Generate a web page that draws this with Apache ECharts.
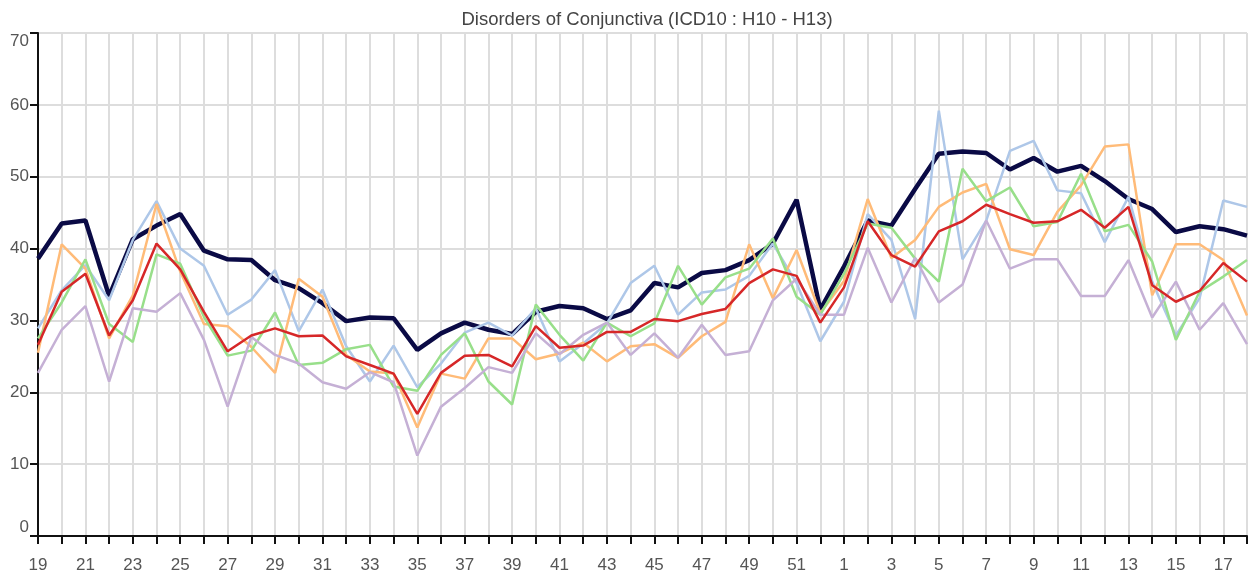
<!DOCTYPE html>
<html>
<head>
<meta charset="utf-8">
<title>Disorders of Conjunctiva</title>
<script src="https://cdn.jsdelivr.net/npm/echarts@6/dist/echarts.min.js"></script>
<style>
    html, body { margin: 0; padding: 0; background: #fff; }
    #chart { width: 1249px; height: 578px; }
</style>
</head>
<body>
<div id="chart"></div>
<script>
// 周次: 19..52 接 1..18
let weeks = ['19','20','21','22','23','24','25','26','27','28','29','30','31','32','33','34','35','36','37','38','39','40','41','42','43','44','45','46','47','48','49','50','51','52',
    '1','2','3','4','5','6','7','8','9','10','11','12','13','14','15','16','17','18'];

let yTicks = [0, 10, 20, 30, 40, 50, 60, 70];

// 当前季 (粗线)
let current = [38.6, 43.5, 43.9, 33.4, 41.3, 43.2, 44.8, 39.7, 38.5, 38.4, 35.6, 34.5, 32.4, 29.9, 30.4, 30.3, 25.9,
    28.2, 29.7, 28.7, 28.1, 31.2, 32.0, 31.7, 30.2, 31.4, 35.2, 34.6, 36.6, 37.0, 38.4, 40.7, 46.8, 31.5,
    37.5, 43.9, 43.2, 48.3, 53.2, 53.5, 53.3, 51.0, 52.6, 50.7, 51.5, 49.4, 46.9, 45.5, 42.3, 43.1, 42.7, 41.8];

let seasonBlue = [28.9, 34.2, 37.7, 32.8, 41.2, 46.6, 40.0, 37.6, 30.8, 32.9, 37.0, 28.5, 34.3, 26.4, 21.5, 26.5, 20.7,
    24.0, 28.3, 29.7, 27.9, 31.7, 24.3, 26.8, 29.6, 35.2, 37.6, 30.8, 33.9, 34.3, 36.2, 40.7, 35.2, 27.1,
    32.6, 44.8, 41.2, 30.2, 59.2, 38.5, 43.9, 53.6, 55.0, 48.1, 47.7, 40.9, 47.2, 35.4, 27.9, 33.1, 46.7, 45.8];

let seasonOrange = [25.5, 40.6, 37.2, 27.5, 33.5, 46.2, 36.8, 29.5, 29.2, 26.3, 22.7, 35.8, 33.3, 25.2, 22.9, 22.6, 15.1,
    22.6, 21.9, 27.5, 27.5, 24.6, 25.4, 26.9, 24.3, 26.4, 26.7, 24.8, 27.8, 29.8, 40.6, 33.1, 39.8, 31.0,
    35.5, 46.9, 38.7, 41.2, 45.8, 47.8, 49.0, 39.9, 39.1, 45.1, 48.8, 54.2, 54.5, 33.5, 40.6, 40.6, 38.4, 30.7];

let seasonGreen = [27.5, 32.5, 38.5, 29.5, 27.0, 39.2, 37.9, 30.5, 25.1, 25.8, 31.1, 23.8, 24.1, 26.0, 26.6, 20.8, 20.2,
    25.2, 28.2, 21.5, 18.3, 32.2, 28.0, 24.4, 29.7, 27.8, 29.6, 37.6, 32.2, 36.0, 37.2, 41.4, 33.3, 30.8,
    36.5, 43.5, 42.9, 38.6, 35.4, 51.1, 46.6, 48.5, 43.1, 43.7, 50.4, 42.4, 43.3, 38.2, 27.3, 34.0, 36.1, 38.4];

let seasonPurple = [22.7, 28.7, 32.0, 21.5, 31.7, 31.2, 33.8, 27.3, 18.0, 27.7, 25.2, 24.0, 21.4, 20.5, 22.8, 21.4, 11.2,
    18.0, 20.6, 23.5, 22.7, 28.2, 25.3, 28.0, 29.7, 25.2, 28.2, 24.8, 29.4, 25.2, 25.7, 32.8, 35.8, 30.8,
    30.8, 40.1, 32.5, 38.7, 32.5, 35.0, 43.9, 37.2, 38.5, 38.5, 33.4, 33.4, 38.4, 30.4, 35.4, 28.7, 32.4, 26.7];

// 往季平均 (红线)
let average = [26.6, 34.0, 36.5, 27.9, 32.8, 40.7, 37.1, 31.2, 25.7, 27.9, 28.9, 27.8, 27.9, 25.0, 23.8, 22.6, 17.0,
    22.7, 25.1, 25.2, 23.6, 29.2, 26.2, 26.5, 28.4, 28.4, 30.2, 29.9, 30.9, 31.6, 35.2, 37.1, 36.2, 29.7,
    34.6, 43.8, 39.1, 37.5, 42.4, 43.8, 46.1, 44.8, 43.6, 43.8, 45.4, 42.9, 45.8, 34.9, 32.6, 34.1, 38.0, 35.4];

let font = '"Liberation Sans", Arial, sans-serif';

let line = (name, data, color, width) => {
    return {
        name: name,
        type: 'line',
        data: data,
        showSymbol: false,
        symbol: 'none',
        lineStyle: { color: color, width: width },
        itemStyle: { color: color }
    };
};

let option = {
    animation: false,
    title: {
        text: 'Disorders of Conjunctiva (ICD10 : H10 - H13)',
        left: 642,              // 居中于绘图区
        textAlign: 'center',
        top: 5,
        textStyle: { fontFamily: font, fontSize: 18.5, fontWeight: 'normal', color: '#444' }
    },
    grid: {
        left: 38,
        right: 2,
        top: 33,
        bottom: 42,
        outerBoundsMode: 'none'
    },
    xAxis: {
        type: 'category',
        boundaryGap: false,
        data: weeks,
        axisLine: { lineStyle: { color: '#111', width: 2 } },
        axisTick: { show: true, interval: 0, length: 8, lineStyle: { color: '#111', width: 2 } },
        axisLabel: { interval: 1, margin: 21, fontFamily: font, fontSize: 17, color: '#555' },
        splitLine: { show: true, interval: 0, lineStyle: { color: '#dddddd', width: 2 } }
    },
    yAxis: {
        type: 'value',
        min: yTicks[0],
        max: yTicks[yTicks.length - 1],
        interval: 10,
        axisLine: { show: true, lineStyle: { color: '#111', width: 2 } },
        axisTick: { show: true, length: 8, lineStyle: { color: '#111', width: 2 } },
        axisLabel: {
            margin: 9, fontFamily: font, fontSize: 17, color: '#555',
            verticalAlignMinLabel: 'bottom',
            verticalAlignMaxLabel: 'top'
        },
        splitLine: { show: true, lineStyle: { color: '#dddddd', width: 2 } }
    },
    series: [
        line('current', current, '#0a0a45', 4.5),
        line('blue', seasonBlue, '#aec7e8', 2.5),
        line('orange', seasonOrange, '#ffbb78', 2.5),
        line('green', seasonGreen, '#98df8a', 2.5),
        line('purple', seasonPurple, '#c5b0d5', 2.5),
        line('average', average, '#d62728', 2.5)
    ]
};

let chart = echarts.init(document.getElementById('chart'));
chart.setOption(option, true);
</script>
</body>
</html>
